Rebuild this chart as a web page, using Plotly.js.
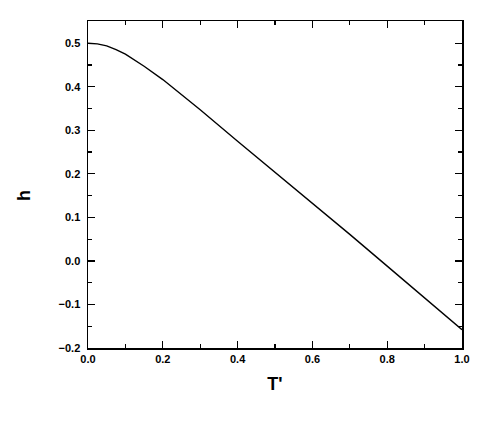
<!DOCTYPE html>
<html>
<head>
<meta charset="utf-8">
<script src="https://cdn.plot.ly/plotly-3.0.1.min.js"></script>
<style>
  html, body { margin: 0; padding: 0; background: #fff; }
  #chart { width: 491px; height: 436px; }
</style>
</head>
<body>
<div id="chart"></div>
<script>
// values
const tPrime = [0, 0.025, 0.05, 0.075, 0.1, 0.125, 0.15, 0.2, 0.25, 0.3, 0.4, 0.5, 0.6, 0.7, 0.8, 0.9, 1.0];
const hValues = [0.5, 0.4985, 0.494, 0.4855, 0.475, 0.4615, 0.447, 0.4165, 0.382, 0.347, 0.275, 0.204, 0.133, 0.061, -0.012, -0.085, -0.158];

const tickFont = { family: 'Liberation Sans, Arial, sans-serif', size: 11, color: '#000', weight: 'bold' };
const titleFont = { family: 'Liberation Sans, Arial, sans-serif', size: 18, color: '#000', weight: 'bold' };

const trace = {
    x: tPrime,
    y: hValues,
    type: 'scatter',
    mode: 'lines',
    line: { color: '#000', width: 1.4 },
    showlegend: false
};

const axisCommon = {
    showgrid: false,
    zeroline: false,
    showline: true,
    linecolor: '#000',
    linewidth: 1.5,
    mirror: 'ticks',
    ticks: 'inside',
    ticklen: 7,
    tickwidth: 1.3,
    tickcolor: '#000',
    tickfont: tickFont,
    tickformat: '.1f'
};

const layout = {
    width: 491,
    height: 436,
    margin: { l: 88, r: 29, t: 21, b: 88 },
    paper_bgcolor: '#fff',
    plot_bgcolor: '#fff',
    xaxis: Object.assign({}, axisCommon, {
        range: [0, 1],
        dtick: 0.2,
        tick0: 0,
        minor: { ticks: 'inside', ticklen: 4, dtick: 0.1, tickcolor: '#000', tickwidth: 1.3 },
        title: { text: "T'", font: titleFont, standoff: 13 }
    }),
    yaxis: Object.assign({}, axisCommon, {
        range: [-0.2, 0.551],
        dtick: 0.1,
        tick0: 0,
        ticklabelstandoff: 4,
        minor: { ticks: 'inside', ticklen: 4, dtick: 0.05, tickcolor: '#000', tickwidth: 1.3 }
    }),
    // y title placed by hand: it sits a little below the middle of the axis
    annotations: [{
        text: 'h',
        xref: 'paper', yref: 'paper',
        x: -0.171, y: 0.465,
        xanchor: 'center', yanchor: 'middle',
        textangle: -90,
        showarrow: false,
        font: titleFont
    }]
};

Plotly.newPlot('chart', [trace], layout, { displayModeBar: false, staticPlot: true });
</script>
</body>
</html>
